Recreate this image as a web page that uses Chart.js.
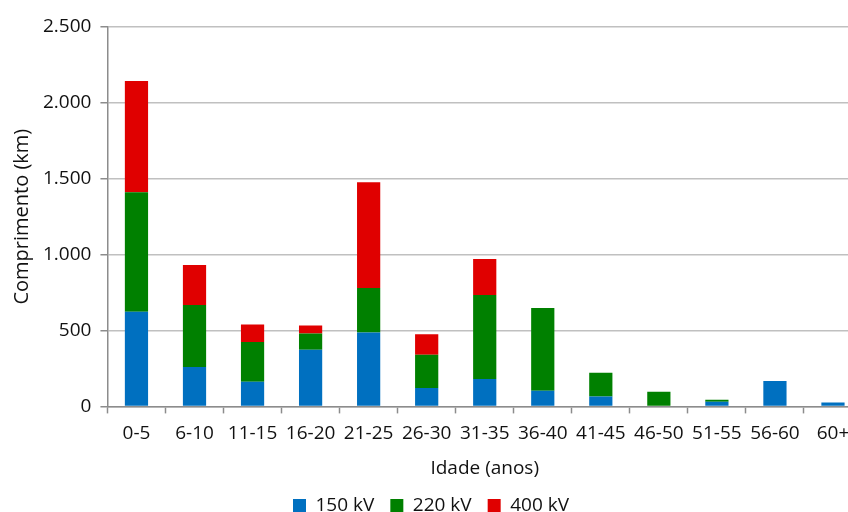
<!DOCTYPE html>
<html>
<head>
<meta charset="utf-8">
<script src="https://cdn.jsdelivr.net/npm/chart.js@4/dist/chart.umd.min.js"></script>
<style>
  html, body { margin: 0; padding: 0; background: #ffffff; overflow: hidden; }
  #wrap { position: relative; width: 862px; height: 527px; }
</style>
</head>
<body>
<div id="wrap"><canvas id="chart"></canvas></div>
<script>
// Age classes of the lines (years)
const categories = ['0-5', '6-10', '11-15', '16-20', '21-25', '26-30', '31-35', '36-40', '41-45', '46-50', '51-55', '56-60', '60+'];

// Line length per voltage level (km)
const km150 = [623, 260, 162, 374, 487, 121, 180, 103, 66, 0, 30, 168, 25];
const km220 = [788, 408, 262, 107, 293, 220, 554, 546, 156, 97, 13, 0, 0];
const km400 = [733, 264, 116, 52, 697, 135, 237, 0, 0, 0, 0, 0, 0];

const seriesNames = ['150 kV', '220 kV', '400 kV'];
const seriesColors = ['#0070C0', '#008000', '#E00000'];

const FONT = '"Open Sans", "Noto Sans", sans-serif';
const TEXT = '#111111';

// thousands separator with a dot: 2500 -> 2.500
function fmt(v) {
  return String(v).replace(/\B(?=(\d{3})+(?!\d))/g, '.');
}

new Chart(document.getElementById('chart'), {
  type: 'bar',
  data: {
    labels: categories,
    datasets: [km150, km220, km400].map((vals, i) => ({
      label: seriesNames[i],
      data: vals,
      backgroundColor: seriesColors[i],
      borderWidth: 0,
      categoryPercentage: 0.4,
      barPercentage: 1.0
    }))
  },
  options: {
    responsive: true,
    maintainAspectRatio: false,
    animation: false,
    layout: { padding: { top: 27, right: 0, bottom: 2, left: 0 } },
    plugins: {
      tooltip: { enabled: false },
      legend: {
        position: 'bottom',
        labels: {
          font: { family: FONT, size: 19 },
          color: TEXT,
          boxWidth: 13,
          boxHeight: 13,
          padding: 16
        }
      }
    },
    scales: {
      x: {
        stacked: true,
        grid: {
          display: true,
          drawOnChartArea: false,
          drawTicks: true,
          tickLength: 7,
          tickColor: '#8c8c8c',
          tickWidth: 1.5,
          offset: true
        },
        border: { color: '#8c8c8c', width: 1.5 },
        ticks: {
          font: { family: FONT, size: 19 },
          color: TEXT,
          padding: 9,
          maxRotation: 0,
          autoSkip: false
        },
        title: {
          display: true,
          text: 'Idade (anos)',
          font: { family: FONT, size: 19 },
          color: TEXT,
          padding: { top: 3, bottom: 0 }
        }
      },
      y: {
        stacked: true,
        min: 0,
        max: 2500,
        grid: {
          color: '#c0c0c0',
          lineWidth: 1.5,
          drawTicks: true,
          tickLength: 7,
          tickColor: '#8c8c8c',
          tickWidth: 1.5
        },
        border: { color: '#8c8c8c', width: 1.5 },
        ticks: {
          stepSize: 500,
          font: { family: FONT, size: 19 },
          color: TEXT,
          padding: 9,
          callback: (v) => fmt(v)
        },
        title: {
          display: true,
          text: 'Comprimento (km)',
          font: { family: FONT, size: 20 },
          color: TEXT,
          padding: { top: 10, bottom: 0 }
        }
      }
    }
  }
});
</script>
</body>
</html>
